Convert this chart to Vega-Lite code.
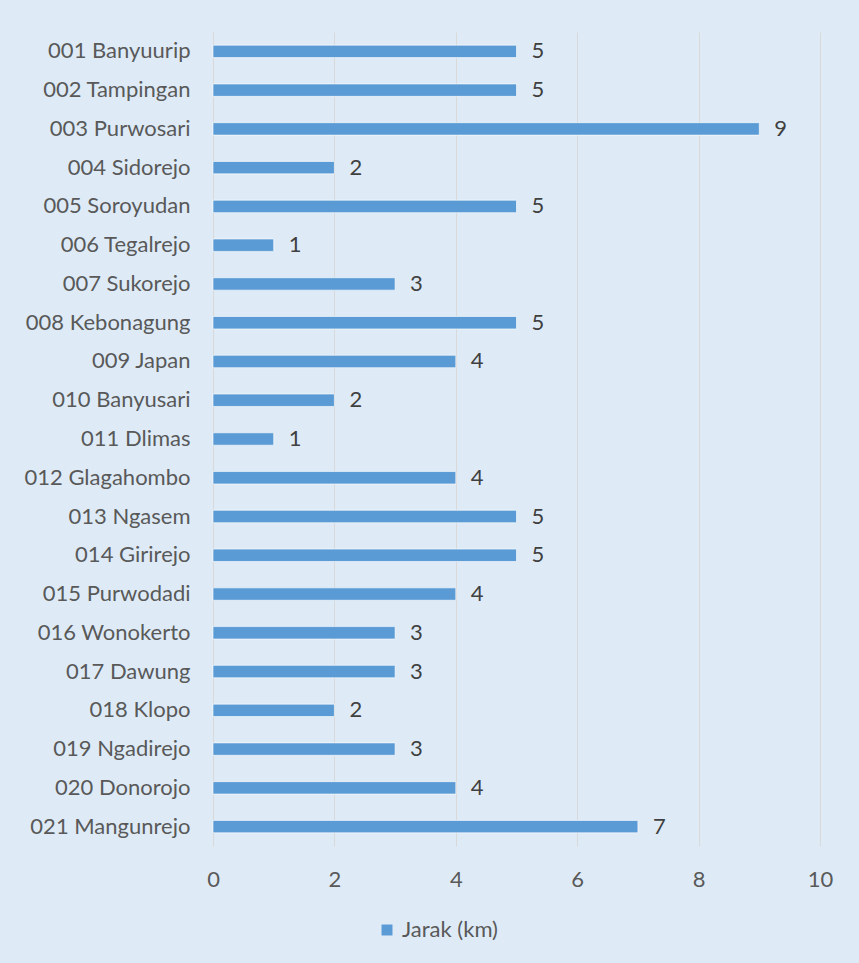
{
  "$schema": "https://vega.github.io/schema/vega-lite/v6.json",
  "width": 607,
  "height": 814,
  "autosize": {"type": "none"},
  "padding": {"left": 213, "top": 32, "right": 39, "bottom": 117},
  "background": "#DEEBF7",
  "config": {
    "view": {"stroke": null},
    "font": "Lato"
  },
  "data": {
    "values": [
      {"desa": "001 Banyuurip", "jarak": 5, "s": "Jarak (km)"},
      {"desa": "002 Tampingan", "jarak": 5, "s": "Jarak (km)"},
      {"desa": "003 Purwosari", "jarak": 9, "s": "Jarak (km)"},
      {"desa": "004 Sidorejo", "jarak": 2, "s": "Jarak (km)"},
      {"desa": "005 Soroyudan", "jarak": 5, "s": "Jarak (km)"},
      {"desa": "006 Tegalrejo", "jarak": 1, "s": "Jarak (km)"},
      {"desa": "007 Sukorejo", "jarak": 3, "s": "Jarak (km)"},
      {"desa": "008 Kebonagung", "jarak": 5, "s": "Jarak (km)"},
      {"desa": "009 Japan", "jarak": 4, "s": "Jarak (km)"},
      {"desa": "010 Banyusari", "jarak": 2, "s": "Jarak (km)"},
      {"desa": "011 Dlimas", "jarak": 1, "s": "Jarak (km)"},
      {"desa": "012 Glagahombo", "jarak": 4, "s": "Jarak (km)"},
      {"desa": "013 Ngasem", "jarak": 5, "s": "Jarak (km)"},
      {"desa": "014 Girirejo", "jarak": 5, "s": "Jarak (km)"},
      {"desa": "015 Purwodadi", "jarak": 4, "s": "Jarak (km)"},
      {"desa": "016 Wonokerto", "jarak": 3, "s": "Jarak (km)"},
      {"desa": "017 Dawung", "jarak": 3, "s": "Jarak (km)"},
      {"desa": "018 Klopo", "jarak": 2, "s": "Jarak (km)"},
      {"desa": "019 Ngadirejo", "jarak": 3, "s": "Jarak (km)"},
      {"desa": "020 Donorojo", "jarak": 4, "s": "Jarak (km)"},
      {"desa": "021 Mangunrejo", "jarak": 7, "s": "Jarak (km)"}
    ]
  },
  "encoding": {
    "y": {
      "field": "desa",
      "type": "nominal",
      "sort": null,
      "scale": {"paddingInner": 0.68, "paddingOuter": 0.34},
      "axis": {
        "title": null,
        "ticks": false,
        "domainColor": "#D9D9D9",
        "domainWidth": 1,
        "labelFontSize": 22,
        "labelColor": "#595959",
        "labelPadding": 23,
        "grid": false
      }
    },
    "x": {
      "field": "jarak",
      "type": "quantitative",
      "scale": {"domain": [0, 10]},
      "axis": {
        "title": null,
        "values": [0, 2, 4, 6, 8, 10],
        "domain": false,
        "ticks": false,
        "labelFlush": false,
        "gridColor": "#D9D9D9",
        "gridWidth": 1,
        "labelFontSize": 22,
        "labelColor": "#595959",
        "labelPadding": 23
      }
    }
  },
  "layer": [
    {
      "mark": {"type": "bar", "stroke": "#ffffff", "strokeOpacity": 0.6, "strokeWidth": 1},
      "encoding": {
        "color": {
          "field": "s",
          "type": "nominal",
          "scale": {"range": ["#5B9BD5"]},
          "legend": {
            "title": null,
            "orient": "none",
            "legendX": 163,
            "legendY": 887,
            "symbolType": "square",
            "symbolSize": 120,
            "symbolStrokeWidth": 0,
            "labelFontSize": 22,
            "labelColor": "#595959",
            "labelOffset": 4
          }
        }
      }
    },
    {
      "mark": {"type": "text", "align": "left", "dx": 15, "fontSize": 22, "color": "#404040"},
      "encoding": {"text": {"field": "jarak", "type": "quantitative"}}
    }
  ]
}
